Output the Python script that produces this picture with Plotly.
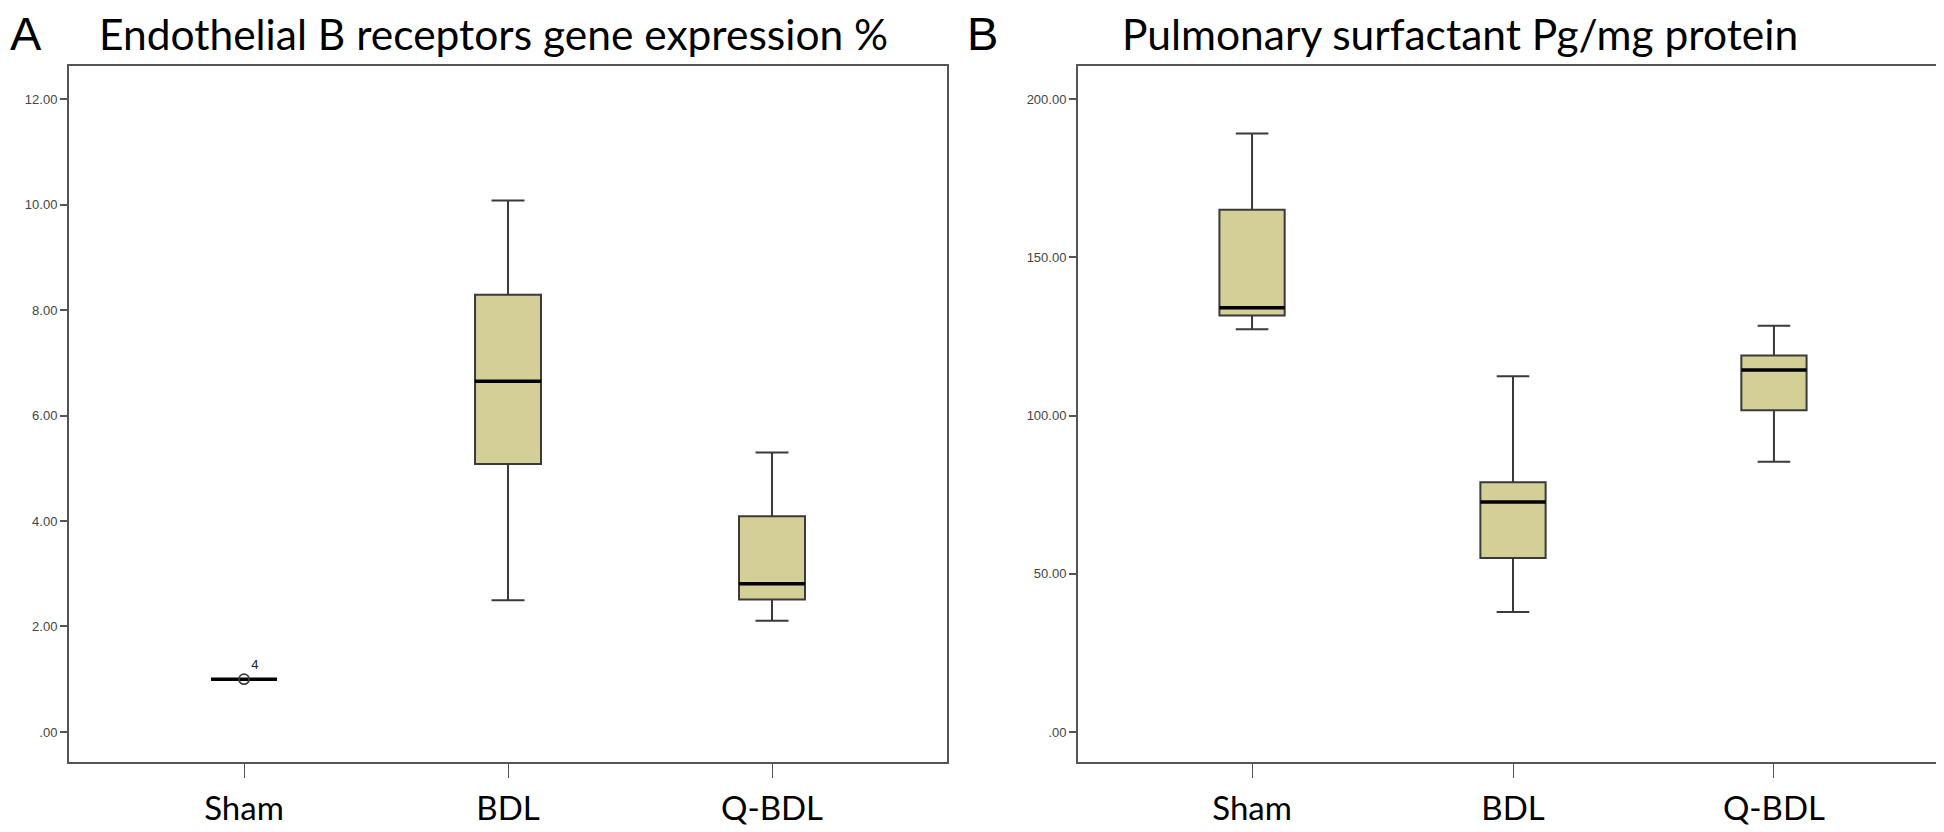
import plotly.graph_objects as go

# ---------------- data ----------------
categories = ["Sham", "BDL", "Q-BDL"]

# Panel A: Endothelial B receptors gene expression %
a_lower = [1.00, 2.50, 2.11]
a_q1 = [1.00, 5.08, 2.51]
a_median = [1.00, 6.65, 2.81]
a_q3 = [1.00, 8.29, 4.09]
a_upper = [1.00, 10.08, 5.30]
a_outlier_x = ["Sham"]
a_outlier_y = [1.00]
a_outlier_label = ["4"]
a_tickvals = [0, 2, 4, 6, 8, 10, 12]
a_ticktext = [".00", "2.00", "4.00", "6.00", "8.00", "10.00", "12.00"]

# Panel B: Pulmonary surfactant Pg/mg protein
b_lower = [127.3, 37.9, 85.4]
b_q1 = [131.6, 55.0, 101.7]
b_median = [134.1, 72.7, 114.4]
b_q3 = [165.1, 78.9, 119.0]
b_upper = [189.2, 112.4, 128.4]
b_tickvals = [0, 50, 100, 150, 200]
b_ticktext = [".00", "50.00", "100.00", "150.00", "200.00"]

# ---------------- style ----------------
W, H = 1944, 832
FILL = "#D3CF97"
EDGE = "#3a3a3a"
BOXW = 0.25
pos = list(range(len(categories)))

fig = go.Figure()


def add_panel(xa, ya, lower, q1, med, q3, upper):
    fig.add_trace(go.Box(
        x=pos, lowerfence=lower, q1=q1, median=med, q3=q3, upperfence=upper,
        width=BOXW, whiskerwidth=0.5, fillcolor=FILL,
        line=dict(color=EDGE, width=2), boxpoints=False,
        xaxis=xa, yaxis=ya, showlegend=False, hoverinfo="skip"))
    mx, my = [], []
    for p, m in zip(pos, med):
        mx += [p - BOXW / 2, p + BOXW / 2, None]
        my += [m, m, None]
    fig.add_trace(go.Scatter(
        x=mx, y=my, mode="lines", line=dict(color="black", width=3.5),
        xaxis=xa, yaxis=ya, showlegend=False, hoverinfo="skip"))


add_panel("x", "y", a_lower, a_q1, a_median, a_q3, a_upper)
add_panel("x2", "y2", b_lower, b_q1, b_median, b_q3, b_upper)

# outlier in panel A
fig.add_trace(go.Scatter(
    x=[categories.index(c) for c in a_outlier_x], y=a_outlier_y,
    mode="markers+text", text=a_outlier_label, textposition="top right",
    textfont=dict(family="Liberation Sans", size=13, color="#222"),
    marker=dict(symbol="circle-open", size=10, color=EDGE, line=dict(width=1.8)),
    xaxis="x", yaxis="y", showlegend=False, hoverinfo="skip"))

ydom = [1 - 754 / H, 1 - 58 / H]
xdomA = [61 / W, 938.5 / W]
xdomB = [1070 / W, 1940 / W]

xcommon = dict(
    tickmode="array", tickvals=pos, ticktext=categories,
    ticks="outside", ticklen=14, tickwidth=1.2, tickcolor="#555",
    tickfont=dict(family="Lato", size=33, color="black"),
    ticklabelstandoff=2,
    showline=True, linecolor="#555", linewidth=2, mirror=True,
    showgrid=False, zeroline=False, automargin=False, fixedrange=True,
)
ycommon = dict(
    ticks="outside", ticklen=7, tickwidth=1.5, tickcolor="#555",
    tickfont=dict(family="Liberation Sans", size=13, color="#444"),
    showline=True, linecolor="#555", linewidth=2, mirror=True,
    showgrid=False, zeroline=False, automargin=False, fixedrange=True,
    domain=ydom,
)

fig.update_layout(
    width=W, height=H,
    margin=dict(l=0, r=0, t=0, b=0),
    paper_bgcolor="white", plot_bgcolor="white",
    xaxis=dict(domain=xdomA, range=[-0.663, 2.661], anchor="y", **xcommon),
    xaxis2=dict(domain=xdomB, range=[-0.667, 2.667], anchor="y2", **xcommon),
    yaxis=dict(range=[-0.57, 12.63], tickvals=a_tickvals, ticktext=a_ticktext,
               anchor="x", **ycommon),
    yaxis2=dict(range=[-9.5, 210.5], tickvals=b_tickvals, ticktext=b_ticktext,
                anchor="x2", **ycommon),
    annotations=[
        dict(text="A", x=0, y=1 + 3 / H, xref="paper", yref="paper",
             xanchor="left", yanchor="top", showarrow=False,
             font=dict(family="Liberation Sans", size=47, color="black")),
        dict(text="Endothelial B receptors gene expression %", x=89 / W, y=1 + 2 / H,
             xref="paper", yref="paper", xanchor="left", yanchor="top",
             showarrow=False, font=dict(family="Lato", size=42.5, color="black")),
        dict(text="B", x=957 / W, y=1 + 3 / H, xref="paper", yref="paper",
             xanchor="left", yanchor="top", showarrow=False,
             font=dict(family="Liberation Sans", size=47, color="black")),
        dict(text="Pulmonary surfactant Pg/mg protein", x=1112 / W, y=1 + 2 / H,
             xref="paper", yref="paper", xanchor="left", yanchor="top",
             showarrow=False, font=dict(family="Lato", size=42.5, color="black")),
    ],
)

fig.write_html("out.html")
